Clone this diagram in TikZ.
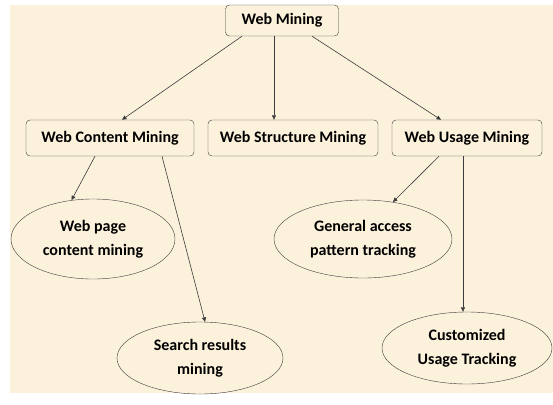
\documentclass[tikz,border=0pt]{standalone}
\usepackage{fontspec}
\setmainfont{Carlito}
\usetikzlibrary{shapes.geometric,arrows.meta}
\definecolor{paper}{RGB}{252,241,219}
\definecolor{edge}{RGB}{60,60,60}
\begin{document}
\begin{tikzpicture}[x=1pt,y=-1pt]

    \tikzset{
        box/.style={
            draw=edge,
            rounded corners=4pt,
            fill=paper,
            inner sep=0pt,
            minimum height=36pt,
            font=\fontsize{16}{24}\selectfont\bfseries
        },
        leaf/.style={
            draw=edge,
            ellipse,
            fill=paper,
            inner sep=0pt,
            align=center,
            font=\fontsize{16}{24}\selectfont\bfseries
        },
        link/.style={
            draw=edge,
            line width=0.6pt,
            -{Triangle[length=4.5pt,width=4pt]}
        }
    }

    % plocha
    \useasboundingbox (0,0) rectangle (553,404);
    \fill[white] (0,0) rectangle (553,404);
    \fill[paper] (10,5) rectangle (553,393);

    % uzly
    \node[box, minimum width=113pt, minimum height=31pt] (wm) at (282,20.5) {Web Mining};
    \node[box, minimum width=168pt] (wcm) at (110,138) {Web Content Mining};
    \node[box, minimum width=170pt] (wsm) at (293,138) {Web Structure Mining};
    \node[box, minimum width=150pt] (wum) at (467,138) {Web Usage Mining};

    \node[leaf, minimum width=164pt, minimum height=80pt] (wpc)  at (93,239)  {Web page\\content mining};
    \node[leaf, minimum width=166pt, minimum height=72pt] (srm)  at (200,358) {Search results\\mining};
    \node[leaf, minimum width=178pt, minimum height=78pt] (gapt) at (363,239) {General access\\pattern tracking};
    \node[leaf, minimum width=170pt, minimum height=72pt] (cut)  at (467,348) {Customized\\Usage Tracking};

    % šipky
    \draw[link] ([xshift=-40pt]wm.south) -- ([xshift=12pt]wcm.north);
    \draw[link] ([xshift=-8pt]wm.south) -- ([xshift=-8pt]wm.south |- wsm.north);
    \draw[link] ([xshift=30pt]wm.south) -- ([xshift=-26pt]wum.north);

    \draw[link] ([xshift=-15pt]wcm.south) -- (wpc.119);
    \draw[link] ([xshift=52pt]wcm.south) -- (srm.82);
    \draw[link] ([xshift=-28pt]wum.south) -- (gapt.51);
    \draw[link] ([xshift=-4pt]wum.south) -- ([xshift=-4pt]wum.south |- cut.north);

\end{tikzpicture}
\end{document}
